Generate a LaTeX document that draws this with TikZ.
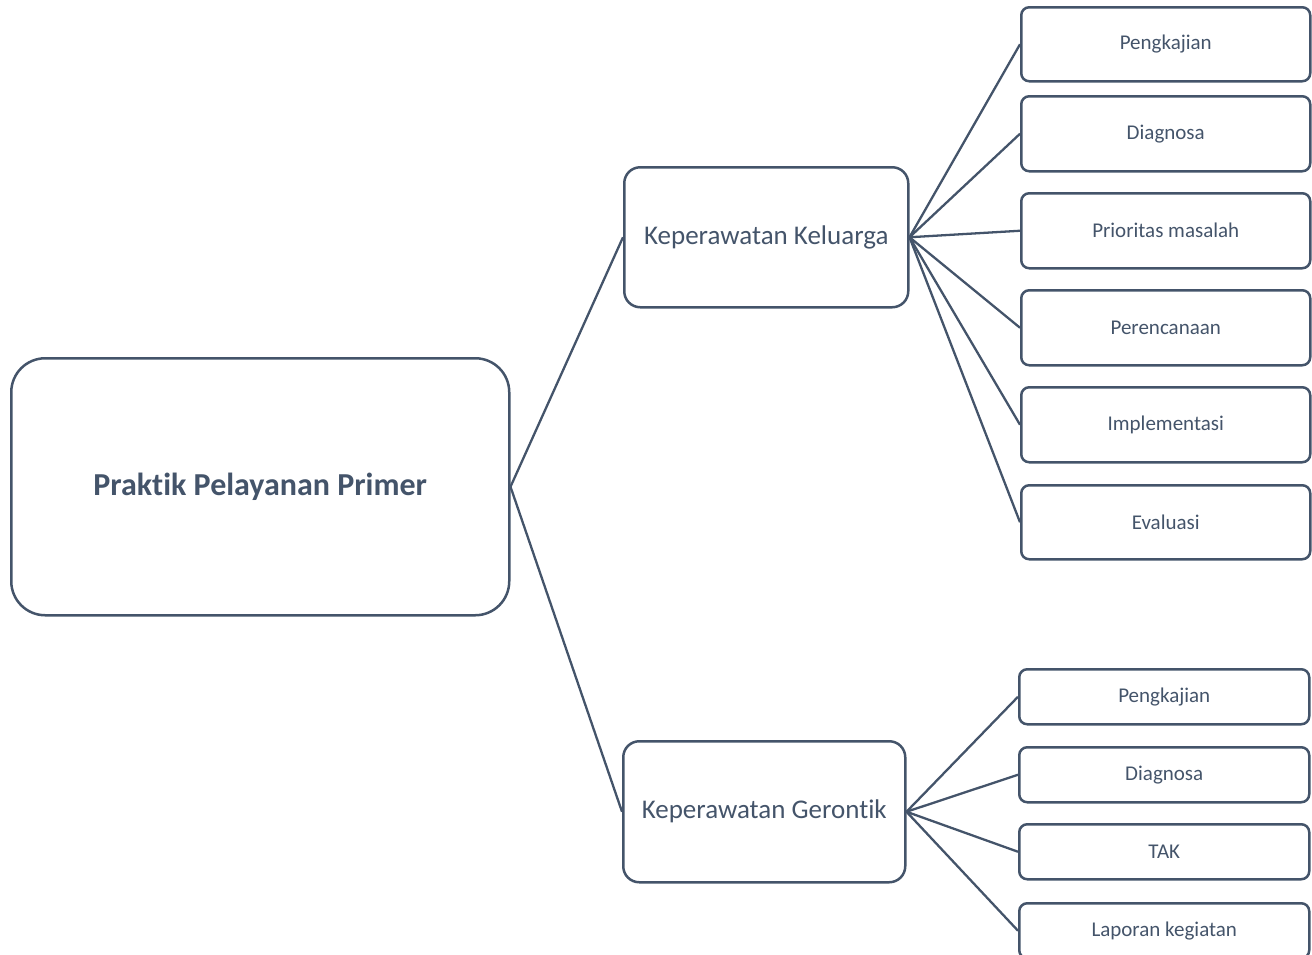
\documentclass[tikz,border=0pt]{standalone}
\usepackage{fontspec}
\setmainfont{Carlito}[Ligatures=NoCommon]
\definecolor{ink}{HTML}{44546A}
\begin{document}
\begin{tikzpicture}[x=1pt,y=-1pt,
  box/.style={draw=ink,line width=2.5pt,text=ink,inner sep=0pt,anchor=north west},
  rootbox/.style={box,rounded corners=34pt,font=\fontsize{32}{38}\selectfont\bfseries},
  midbox/.style={box,rounded corners=16pt,font=\fontsize{27}{32}\selectfont},
  leafbox/.style={box,rounded corners=8pt,font=\fontsize{21}{25}\selectfont},
  link/.style={draw=ink,line width=2.3pt}]
\clip (0,0) rectangle (1312,954);
\useasboundingbox (0,0) rectangle (1312,954);
\node[rootbox,minimum width=498pt,minimum height=257pt] (root) at (10,357) {Praktik Pelayanan Primer};
\node[midbox,minimum width=284pt,minimum height=140pt] (kk) at (623,166) {Keperawatan Keluarga};
\node[midbox,minimum width=282pt,minimum height=141pt] (kg) at (622,740) {Keperawatan Gerontik};
\node[leafbox,minimum width=289pt,minimum height=74pt] (k1) at (1020,6) {Pengkajian};
\node[leafbox,minimum width=289pt,minimum height=75pt] (k2) at (1020,95) {Diagnosa};
\node[leafbox,minimum width=289pt,minimum height=75pt] (k3) at (1020,192) {Prioritas masalah};
\node[leafbox,minimum width=289pt,minimum height=75pt] (k4) at (1020,289) {Perencanaan};
\node[leafbox,minimum width=289pt,minimum height=75pt] (k5) at (1020,386) {Implementasi};
\node[leafbox,minimum width=289pt,minimum height=74pt] (k6) at (1020,484) {Evaluasi};
\node[leafbox,minimum width=290pt,minimum height=55pt] (g1) at (1018,668) {Pengkajian};
\node[leafbox,minimum width=290pt,minimum height=55pt] (g2) at (1018,746) {Diagnosa};
\node[leafbox,minimum width=290pt,minimum height=55pt] (g3) at (1018,823) {TAK};
\node[leafbox,minimum width=290pt,minimum height=55pt] (g4) at (1018,902) {Laporan kegiatan};
\draw[link] (root.east) -- (kk.west);
\draw[link] (root.east) -- (kg.west);
\foreach \c in {k1,k2,k3,k4,k5,k6} \draw[link] (kk.east) -- (\c.west);
\foreach \c in {g1,g2,g3,g4} \draw[link] (kg.east) -- (\c.west);
\end{tikzpicture}
\end{document}
